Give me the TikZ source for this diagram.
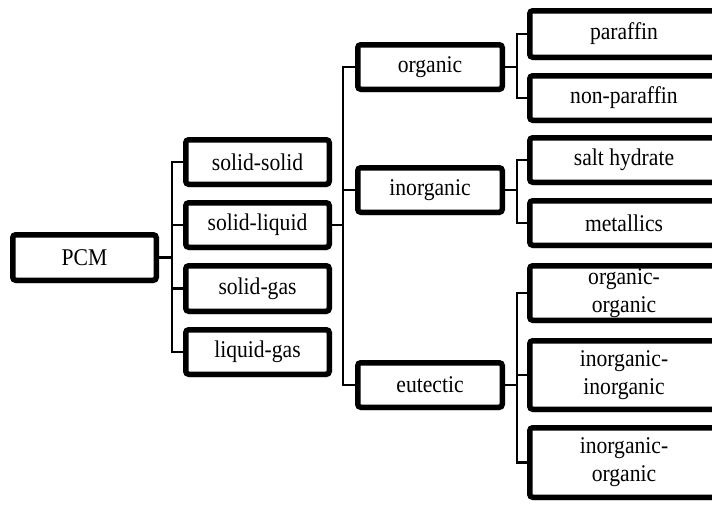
\documentclass[tikz,border=0pt]{standalone}
\usepackage{fontspec}
\setmainfont{Liberation Serif}[FakeStretch=0.9]
\usetikzlibrary{shadows}
\tikzset{
  box/.style={draw=black, line width=5.5pt, rounded corners=3pt, fill=white,
    inner sep=0pt, outer sep=2.75pt, align=center, text=black,
    font=\fontsize{24}{28}\selectfont,
    drop shadow={shadow xshift=1pt, shadow yshift=-3pt, opacity=0.3, fill=black!60}},
  conn/.style={draw=black, line width=2.8pt},
  lvlA/.style={box, minimum width=143.5pt, minimum height=44.5pt},
  lvlB/.style={box, minimum width=144.5pt, minimum height=44.5pt},
  lvlC/.style={box, minimum width=188.5pt, minimum height=44.5pt},
}
\begin{document}
\begin{tikzpicture}[x=1pt,y=-1pt]
\useasboundingbox (0,0) rectangle (712,506);
\clip (0,0) rectangle (712,506);
\node[lvlA, minimum height=45.5pt] (pcm) at (84.5,257.5) {PCM};
\node[lvlA] (ss) at (257.5,162) {solid-solid};
\node[lvlA] (sl) at (257.5,225) {solid-liquid};
\node[lvlA, minimum height=45.5pt] (sg) at (257.5,288.5) {solid-gas};
\node[lvlA] (lg) at (257.5,352) {liquid-gas};
\node[lvlB] (org) at (430,67) {organic};
\node[lvlB] (inorg) at (430,190) {inorganic};
\node[lvlB] (eut) at (430,385) {eutectic};
\node[lvlC, minimum height=46.5pt] (par) at (624,34) {paraffin};
\node[lvlC] (npar) at (624,98) {non-paraffin};
\node[lvlC] (salt) at (624,160) {salt hydrate};
\node[lvlC] (met) at (624,223) {metallics};
\node[lvlC, minimum height=54.5pt] (oo) at (624,293) {organic-\\organic};
\node[lvlC, minimum height=68.5pt] (ii) at (624,375) {inorganic-\\inorganic};
\node[lvlC, minimum height=69.5pt] (io) at (624,462.5) {inorganic-\\organic};
\foreach \c in {ss,sl,sg,lg} \draw[conn] (pcm.east) -- ++(13,0) |- (\c.west);
\foreach \c in {org,inorg,eut} \draw[conn] (sl.east) -- ++(11,0) |- (\c.west);
\foreach \c in {par,npar} \draw[conn] (org.east) -- ++(12,0) |- (\c.west);
\foreach \c in {salt,met} \draw[conn] (inorg.east) -- ++(12,0) |- (\c.west);
\foreach \c in {oo,ii,io} \draw[conn] (eut.east) -- ++(12,0) |- (\c.west);
\end{tikzpicture}
\end{document}
